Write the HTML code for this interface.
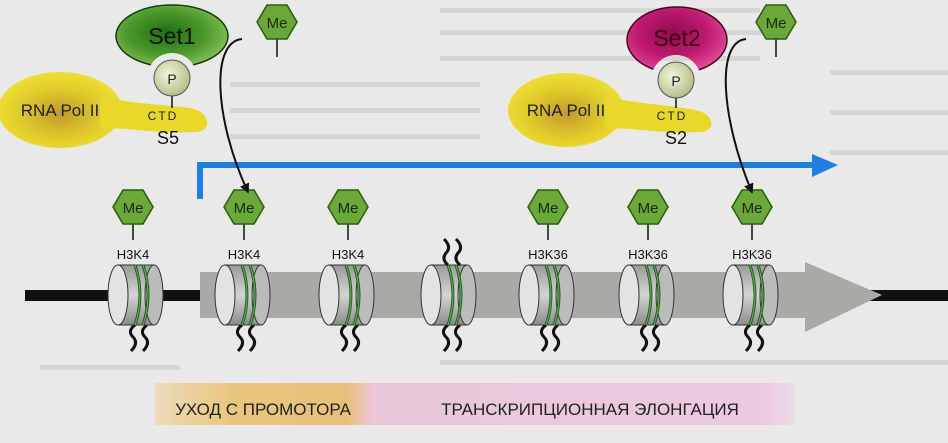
<!DOCTYPE html>
<html><head><meta charset="utf-8"><style>
html,body{margin:0;padding:0;background:#e9e9e7;}
svg{display:block;font-family:"Liberation Sans","DejaVu Sans",sans-serif;}
</style></head><body>
<svg width="948" height="443" viewBox="0 0 948 443" xmlns="http://www.w3.org/2000/svg">
<defs>
<radialGradient id="gG" cx="0.45" cy="0.45" r="0.6"><stop offset="0" stop-color="#1f6e14"/><stop offset="0.6" stop-color="#4e9a2c"/><stop offset="1" stop-color="#8cc458"/></radialGradient>
<radialGradient id="gM" cx="0.45" cy="0.4" r="0.6"><stop offset="0" stop-color="#8e0c4a"/><stop offset="0.6" stop-color="#c01a70"/><stop offset="1" stop-color="#e04a96"/></radialGradient>
<radialGradient id="gY" cx="0.5" cy="0.55" r="0.6"><stop offset="0" stop-color="#c29a2e"/><stop offset="0.6" stop-color="#e2cf2a"/><stop offset="1" stop-color="#f0e43a"/></radialGradient>
<radialGradient id="gP" cx="0.4" cy="0.4" r="0.6"><stop offset="0" stop-color="#f3f6dc"/><stop offset="1" stop-color="#b5c08c"/></radialGradient>
<linearGradient id="gCyl" x1="0" y1="0" x2="0" y2="1"><stop offset="0" stop-color="#9a9a9a"/><stop offset="0.5" stop-color="#d4d4d4"/><stop offset="1" stop-color="#8a8a8a"/></linearGradient>
<linearGradient id="band" x1="0" y1="0" x2="1" y2="0"><stop offset="0" stop-color="#ecdcb8"/><stop offset="0.12" stop-color="#e9c67e"/><stop offset="0.3" stop-color="#e8c07a"/><stop offset="0.34" stop-color="#eac8d8"/><stop offset="0.95" stop-color="#ecc9df"/><stop offset="1" stop-color="#ebdde5"/></linearGradient>
<marker id="ah" markerWidth="10" markerHeight="10" refX="6" refY="5" orient="auto" markerUnits="userSpaceOnUse"><path d="M0,0 L10,5 L0,10 Z" fill="#111"/></marker>
<mask id="m1"><rect width="948" height="443" fill="#fff"/><circle cx="172" cy="78" r="25" fill="#000"/></mask>
<mask id="m2"><rect width="948" height="443" fill="#fff"/><circle cx="676" cy="80" r="25" fill="#000"/></mask>
<g id="me"><polygon points="-20,0 -10,-17 10,-17 20,0 10,17 -10,17" fill="#6aa83a" stroke="#2c5a14" stroke-width="1.5"/><text x="0" y="6" font-size="15" text-anchor="middle" fill="#1a2a10">Me</text></g>
<g id="nuc">
<rect x="-19" y="-30" width="36" height="60" fill="url(#gCyl)" stroke="#333" stroke-width="1"/>
<ellipse cx="17" cy="0" rx="9" ry="30" fill="#bbb" stroke="#333" stroke-width="1"/>
<path d="M-2,-30 Q8,0 -2,30 M6,-30 Q16,0 6,30" stroke="#1c5e2a" stroke-width="3" fill="none"/>
<path d="M-2,-30 Q8,0 -2,30 M6,-30 Q16,0 6,30" stroke="#6fb14a" stroke-width="1" fill="none"/>
<ellipse cx="-19" cy="0" rx="10" ry="30" fill="#e3e3e3" stroke="#333" stroke-width="1"/>
</g>
<g id="tails"><path d="M-2,30 q-8,6 -2,12 q6,6 -2,14 M10,30 q-8,6 -2,12 q6,6 -2,14" stroke="#111" stroke-width="3" fill="none"/></g>
</defs>

<g fill="#d6d6d4">
<rect x="440" y="8" width="320" height="5"/><rect x="440" y="30" width="330" height="5"/><rect x="440" y="56" width="320" height="5"/>
<rect x="230" y="82" width="250" height="5"/><rect x="230" y="108" width="250" height="5"/><rect x="230" y="134" width="250" height="5"/>
<rect x="830" y="70" width="118" height="5"/><rect x="830" y="110" width="118" height="5"/><rect x="830" y="150" width="118" height="5"/>
<rect x="440" y="360" width="250" height="5"/><rect x="690" y="360" width="258" height="5"/><rect x="40" y="365" width="140" height="5"/>
</g>

<rect x="155" y="383" width="640" height="42" fill="url(#band)"/>
<text x="263" y="415" font-size="17" text-anchor="middle" fill="#222">УХОД С ПРОМОТОРА</text>
<text x="590" y="415" font-size="17" text-anchor="middle" fill="#222">ТРАНСКРИПЦИОННАЯ ЭЛОНГАЦИЯ</text>

<rect x="25" y="290" width="923" height="11" fill="#111"/>
<path d="M200,272 L805,272 L805,262 L882,295 L805,332 L805,318 L200,318 Z" fill="#a9aaa5"/>

<g transform="translate(137,295)"><use href="#tails"/><use href="#nuc"/></g>
<g transform="translate(244,295)"><use href="#tails"/><use href="#nuc"/></g>
<g transform="translate(348,295)"><use href="#tails"/><use href="#nuc"/></g>
<g transform="translate(450,295)"><use href="#tails"/><use href="#nuc"/><path d="M-2,-30 q-7,-6 -2,-12 q6,-6 -2,-14 M10,-30 q-7,-6 -2,-12 q6,-6 -2,-14" stroke="#111" stroke-width="3" fill="none"/></g>
<g transform="translate(548,295)"><use href="#tails"/><use href="#nuc"/></g>
<g transform="translate(648,295)"><use href="#tails"/><use href="#nuc"/></g>
<g transform="translate(752,295)"><use href="#tails"/><use href="#nuc"/></g>

<g stroke="#111" stroke-width="1.5">
<line x1="133" y1="222" x2="133" y2="240"/><line x1="244" y1="222" x2="244" y2="240"/><line x1="348" y1="222" x2="348" y2="240"/>
<line x1="548" y1="222" x2="548" y2="240"/><line x1="648" y1="222" x2="648" y2="240"/><line x1="752" y1="222" x2="752" y2="240"/>
</g>
<use href="#me" x="133" y="207"/><use href="#me" x="244" y="207"/><use href="#me" x="348" y="207"/>
<use href="#me" x="548" y="207"/><use href="#me" x="648" y="207"/><use href="#me" x="752" y="207"/>
<g font-size="13" text-anchor="middle" fill="#111">
<text x="133" y="259">H3K4</text><text x="244" y="259">H3K4</text><text x="348" y="259">H3K4</text>
<text x="548" y="259">H3K36</text><text x="648" y="259">H3K36</text><text x="752" y="259">H3K36</text>
</g>

<path d="M200,199 L200,165 L815,165" stroke="#1e7fe0" stroke-width="6" fill="none"/>
<polygon points="812,154 838,165 812,177" fill="#1e7fe0"/>

<!-- complex 1 -->
<ellipse cx="60" cy="110" rx="62" ry="38" fill="url(#gY)"/>
<path d="M100,96 C130,104 160,104 190,108 C212,112 212,132 195,132 C160,134 130,128 100,128 Z" fill="#e8d82c"/>
<text x="60" y="116" font-size="17" text-anchor="middle" fill="#222">RNA Pol II</text>
<text x="163" y="120" font-size="12" text-anchor="middle" fill="#222" letter-spacing="2">CTD</text>
<text x="168" y="144" font-size="18" text-anchor="middle" fill="#111">S5</text>
<line x1="172" y1="92" x2="172" y2="108" stroke="#111" stroke-width="1.5"/>
<ellipse cx="172" cy="36" rx="56" ry="31" fill="url(#gG)" stroke="#1a3a10" stroke-width="1.5" mask="url(#m1)"/>
<text x="172" y="44" font-size="23" text-anchor="middle" fill="#111">Set1</text>
<circle cx="172" cy="78" r="18" fill="url(#gP)" stroke="#555" stroke-width="1"/>
<text x="172" y="84" font-size="14" text-anchor="middle" fill="#222">P</text>
<line x1="277" y1="36" x2="277" y2="57" stroke="#111" stroke-width="1.5"/>
<use href="#me" x="277" y="22"/>
<path d="M242,39 C210,42 215,120 247,190" stroke="#111" stroke-width="2" fill="none" marker-end="url(#ah)"/>

<!-- complex 2 -->
<ellipse cx="566" cy="110" rx="58" ry="37" fill="url(#gY)"/>
<path d="M605,96 C635,104 665,104 695,110 C716,114 716,132 700,132 C665,134 635,128 605,128 Z" fill="#e8d82c"/>
<text x="566" y="116" font-size="17" text-anchor="middle" fill="#222">RNA Pol II</text>
<text x="672" y="120" font-size="12" text-anchor="middle" fill="#222" letter-spacing="2">CTD</text>
<text x="676" y="144" font-size="18" text-anchor="middle" fill="#111">S2</text>
<line x1="676" y1="94" x2="676" y2="108" stroke="#111" stroke-width="1.5"/>
<ellipse cx="677" cy="40" rx="50" ry="33" fill="url(#gM)" stroke="#4a0424" stroke-width="1.5" mask="url(#m2)"/>
<text x="677" y="46" font-size="23" text-anchor="middle" fill="#3a0018">Set2</text>
<circle cx="676" cy="80" r="18" fill="url(#gP)" stroke="#555" stroke-width="1"/>
<text x="676" y="86" font-size="14" text-anchor="middle" fill="#222">P</text>
<line x1="776" y1="36" x2="776" y2="57" stroke="#111" stroke-width="1.5"/>
<use href="#me" x="776" y="22"/>
<path d="M746,39 C715,42 722,120 751,190" stroke="#111" stroke-width="2" fill="none" marker-end="url(#ah)"/>
</svg>
</body></html>
